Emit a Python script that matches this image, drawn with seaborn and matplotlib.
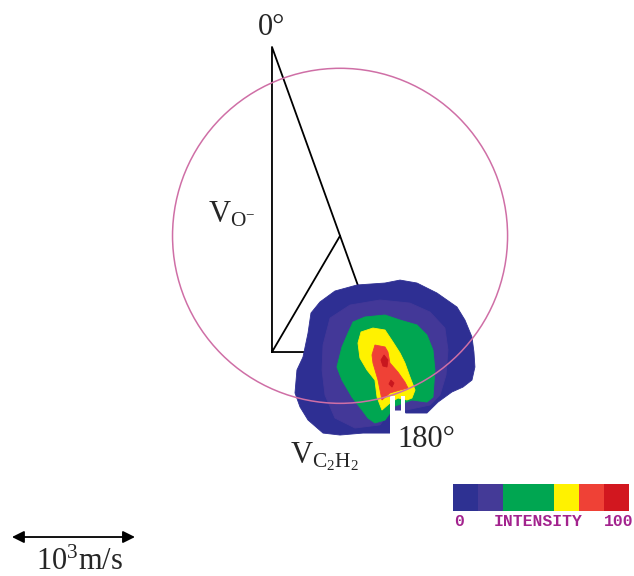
import numpy as np
import pandas as pd
import seaborn as sns
import matplotlib
matplotlib.use("Agg")
import matplotlib.pyplot as plt
from matplotlib.patches import Circle, Polygon
from matplotlib.colors import ListedColormap

# Newton diagram, velocities in m/s
v_anion = 2480      # O- beam, vertical
v_c2h2 = 894        # C2H2 beam, horizontal
m_anion, m_c2h2 = 16.0, 26.0
sphere_radius = 1362

# intensity contour boundaries (vx, vy) in m/s, lowest level first
level_blue = [(317, 317), (390, 407), (512, 496), (691, 545), (919, 561), (1041, 585),
              (1179, 561), (1341, 480), (1504, 366), (1569, 260), (1626, 122), (1642, 0),
              (1650, -122), (1626, -228), (1553, -285), (1463, -325), (1350, -407),
              (1260, -496), (1089, -496), (1041, -463), (967, -463), (959, -659),
              (740, -659), (553, -675), (415, -659), (293, -553), (228, -447),
              (187, -333), (203, -146), (252, -41), (293, 154)]
level_purple = [(472, 276), (634, 382), (878, 423), (1122, 398), (1285, 325), (1406, 195),
                (1431, 16), (1415, -187), (1366, -350), (1285, -431), (1089, -472),
                (967, -472), (878, -593), (675, -618), (512, -537), (431, -350),
                (407, -146), (415, 57)]
level_green = [(659, 244), (756, 285), (919, 301), (1041, 260), (1179, 220), (1260, 138),
               (1309, 16), (1325, -146), (1309, -366), (1260, -407), (1138, -390),
               (1000, -439), (919, -553), (837, -577), (780, -537), (732, -472),
               (650, -366), (569, -228), (528, -122), (569, 41), (618, 154)]
level_yellow = [(724, 163), (821, 195), (919, 179), (984, 81), (1041, -8), (1081, -89),
                (1122, -203), (1163, -309), (1138, -374), (1098, -390), (1024, -374),
                (959, -415), (894, -472), (854, -366), (837, -228), (772, -146),
                (715, -49), (699, 73)]
level_red = [(837, 57), (919, 41), (943, 0), (959, -89), (1024, -163), (1081, -244),
             (1106, -293), (1041, -309), (959, -333), (894, -390), (862, -228),
             (821, -89), (813, -24)]
peak_1 = [(911, -24), (943, -65), (935, -122), (902, -114), (886, -65)]
peak_2 = [(967, -228), (992, -252), (976, -285), (951, -260)]
# detector blind slots
slots = [[(963, -358), (1004, -358), (1004, -715), (963, -715)],
         [(1045, -358), (1085, -358), (1085, -715), (1045, -715)]]

contours = [level_blue, level_purple, level_green, level_yellow, level_red, peak_1, peak_2]
contour_colors = ["#2E2F93", "#433898", "#00A651", "#FFF200", "#EF4136", "#C8161E", "#C8161E"]

bar_levels = [0, 1, 2, 3, 4, 5, 6]
bar_colors = ["#2E3192", "#443A97", "#00A651", "#00A651", "#FFF200", "#EF4136", "#D2171F"]

sns.set_theme(style="white")
plt.rcParams["font.family"] = ["Liberation Serif", "DejaVu Serif"]
plt.rcParams["mathtext.fontset"] = "custom"
plt.rcParams["mathtext.rm"] = "Liberation Serif"
plt.rcParams["mathtext.it"] = "Liberation Serif"

fig = plt.figure(figsize=(6.34, 5.76), dpi=100)
ax = fig.add_axes([0, 0, 1, 1])
ax.set_xlim(-2211, 2943)
ax.set_ylim(-1821, 2862)
ax.set_aspect("equal")
ax.axis("off")

cm_x = m_c2h2 * v_c2h2 / (m_anion + m_c2h2)
cm_y = m_anion * v_anion / (m_anion + m_c2h2)

lines = pd.DataFrame({
    "vx": [0, 0, v_c2h2, 0, cm_x],
    "vy": [0, v_anion, 0, 0, cm_y],
})
sns.lineplot(data=lines, x="vx", y="vy", sort=False, estimator=None,
             color="black", lw=1.3, ax=ax, zorder=1)

for poly, col in zip(contours, contour_colors):
    ax.add_patch(Polygon(poly, closed=True, facecolor=col, edgecolor=col, lw=0.6, zorder=2))
for poly in slots:
    ax.add_patch(Polygon(poly, closed=True, facecolor="white", edgecolor="none", zorder=3))

ax.add_patch(Circle((cm_x, cm_y), sphere_radius, fill=False, edgecolor="#CF6FA6",
                    lw=1.1, zorder=4))

ax.text(-114, 2577, "0°", fontsize=22, ha="left", va="baseline")
ax.text(1016, -772, "180°", fontsize=22, ha="left", va="baseline", zorder=5)
ax.text(-520, 1057, r"V$_{\mathrm{O}^{\mathrm{-}}}$", fontsize=22, ha="left", va="baseline")
ax.text(146, -902, r"V$_{\mathrm{C_2H_2}}$", fontsize=22, ha="left", va="baseline")

ax.annotate("", xy=(-2114, -1504), xytext=(-1114, -1504),
            arrowprops=dict(arrowstyle="<|-|>", color="black", lw=1.3,
                            mutation_scale=18, shrinkA=0, shrinkB=0))
ax.text(-1561, -1775, r"10$^{3}$m/s", fontsize=22, ha="center", va="baseline")

cax = fig.add_axes([453 / 634, 65 / 576, 176 / 634, 27 / 576])
sns.heatmap(np.array([bar_levels]), cmap=ListedColormap(bar_colors), cbar=False,
            xticklabels=False, yticklabels=False, ax=cax)

mono = dict(family="Liberation Mono", weight="bold", fontsize=11.8, color="#A3238E",
            va="center")
fig.text(459 / 634, 54 / 576, "0", ha="center", **mono)
fig.text(538 / 634, 54 / 576, "INTENSITY", ha="center", **mono)
fig.text(619 / 634, 54 / 576, "100", ha="center", **mono)

fig.savefig("out.png", dpi=100)
